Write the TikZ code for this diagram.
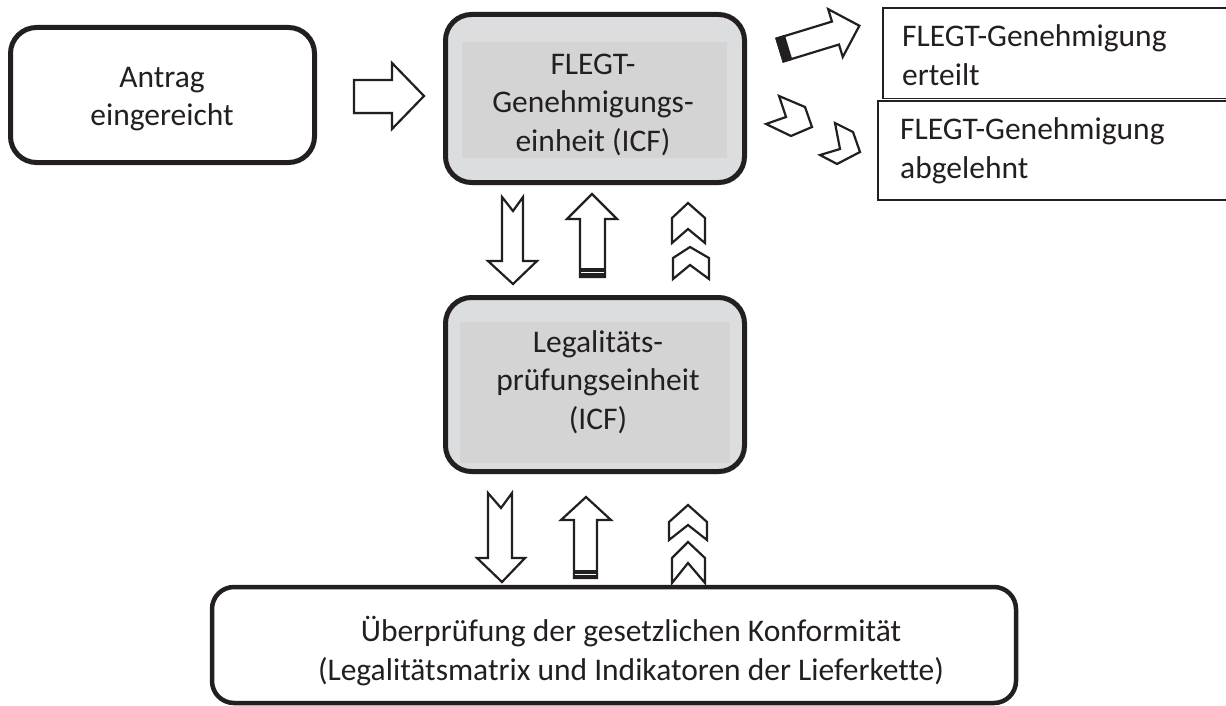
\documentclass[tikz,border=0pt]{standalone}
\usepackage{fontspec}
\setmainfont{Carlito}[Ligatures={NoCommon}]
\usetikzlibrary{shadows}
\definecolor{ink}{HTML}{231F20}
\definecolor{boxgray}{HTML}{DCDDDF}
\definecolor{innergray}{HTML}{D4D4D5}
\tikzset{
  txt/.style={font=\fontsize{31.5}{38.5}\selectfont, text=ink, inner sep=0pt, align=center},
  roundbox/.style={draw=ink, line width=5pt, rounded corners=26pt, inner sep=0pt, fill=white},
  graybox/.style={roundbox, fill=boxgray, drop shadow={shadow xshift=1.5pt, shadow yshift=-2.5pt, opacity=0.3}},
  innerpanel/.style={fill=innergray, inner sep=0pt},
  resultbox/.style={draw=ink, line width=1.5pt, inner sep=0pt},
  blockarrow/.style={draw=ink, line width=2.2pt, fill=white, line join=miter},
  arrowband/.style={fill=ink},
}
\begin{document}
\begin{tikzpicture}[x=1pt,y=-1pt]
\useasboundingbox (0,0) rectangle (1226,706);
\clip (0,0) rectangle (1226,706);

% result boxes (extend beyond right edge)
\node[resultbox, minimum width=360pt, minimum height=90.5pt, anchor=north west] (granted) at (882,7.5) {};
\node[resultbox, minimum width=360pt, minimum height=98.5pt, anchor=north west] (refused) at (877,100.5) {};
\node[txt, align=left, anchor=north west] (grantedtxt) at (902,19.5) {\strut FLEGT-Genehmigung\\erteilt};
\node[txt, align=left, anchor=north west] (refusedtxt) at (900,112.5) {\strut FLEGT-Genehmigung\\abgelehnt};

% Antrag box
\node[roundbox, minimum width=304pt, minimum height=135pt] (antrag) at (162.5,95) {};
\node[txt] (antragtxt) at (162,98.75) {\strut Antrag\\eingereicht\strut};

% FLEGT licensing unit
\node[graybox, minimum width=299pt, minimum height=168pt] (flegt) at (595,98.5) {};
\node[innerpanel, minimum width=265pt, minimum height=116pt] (flegtpanel) at (594.5,100) {};
\node[txt] (flegttxt) at (593,105.25) {\strut FLEGT-\\Genehmigungs-\\einheit (ICF)\strut};

% Legality verification unit
\node[graybox, minimum width=299pt, minimum height=174pt] (legal) at (595,384.5) {};
\node[innerpanel, minimum width=270pt, minimum height=141pt] (legalpanel) at (595,392.5) {};
\node[txt] (legaltxt) at (598,383.25) {\strut Legalitäts-\\prüfungseinheit\\(ICF)\strut};

% Conformity check box
\node[roundbox, line width=4.5pt, rounded corners=22pt, minimum width=804pt, minimum height=116pt] (check) at (614,645) {};
\node[txt] (checktxt) at (631,653.25) {\strut Überprüfung der gesetzlichen Konformität\\(Legalitätsmatrix und Indikatoren der Lieferkette)\strut};

% Antrag -> FLEGT block arrow
\draw[blockarrow, drop shadow={shadow xshift=-1pt, shadow yshift=-2pt, opacity=0.18}]
  (354,80) -- (392,80) -- (392,63) -- (424,96) -- (392,129) -- (392,113) -- (354,113) -- cycle;

% FLEGT -> granted (tilted block arrow with dark tail)
\begin{scope}[shift={(780,50)}, rotate=17]
  \draw[blockarrow] (0,-12) -- (58,-12) -- (58,-25) -- (83,0) -- (58,25) -- (58,12) -- (0,12) -- cycle;
  \fill[arrowband] (-1,-13) rectangle (9,13);
\end{scope}

% FLEGT -> refused (chevrons)
\draw[blockarrow] (766,124) -- (786,117) -- (779,96) -- (805,107) -- (812,127) -- (791,136) -- cycle;
\draw[blockarrow] (820,155) -- (840,149) -- (835,123) -- (853,132) -- (860,152) -- (837,164) -- cycle;

% FLEGT <-> Legalitaet
\draw[blockarrow] (502,197) -- (513,211) -- (523,197) -- (523,261) -- (537,261) -- (513,284) -- (488,261) -- (502,261) -- cycle;
\draw[blockarrow] (592,194) -- (617,219) -- (605,219) -- (605,277) -- (580,277) -- (580,219) -- (567,219) -- cycle;
\fill[arrowband] (579,268) rectangle (606,278);
\draw[white, line width=0.8pt] (581,272.5) -- (604,272.5);
\draw[blockarrow] (688,203) -- (705,218) -- (705,243) -- (688,229) -- (672,243) -- (672,218) -- cycle;
\draw[blockarrow] (690,247) -- (709,258) -- (709,279) -- (690,265) -- (673,279) -- (673,258) -- cycle;

% Legalitaet <-> Ueberpruefung
\draw[blockarrow] (488,493) -- (501,508) -- (512,493) -- (512,558) -- (525,558) -- (502,582) -- (477,558) -- (488,558) -- cycle;
\draw[blockarrow] (586,497) -- (611,520) -- (597,520) -- (597,578) -- (574,578) -- (574,520) -- (561,520) -- cycle;
\fill[arrowband] (573,570) rectangle (598,579);
\draw[white, line width=0.8pt] (575,574.5) -- (596,574.5);
\draw[blockarrow] (688,505) -- (707,522) -- (707,540) -- (688,525) -- (669,540) -- (669,522) -- cycle;
\draw[blockarrow] (688,542) -- (705,558) -- (705,583) -- (688,563) -- (672,583) -- (672,558) -- cycle;
\end{tikzpicture}
\end{document}
